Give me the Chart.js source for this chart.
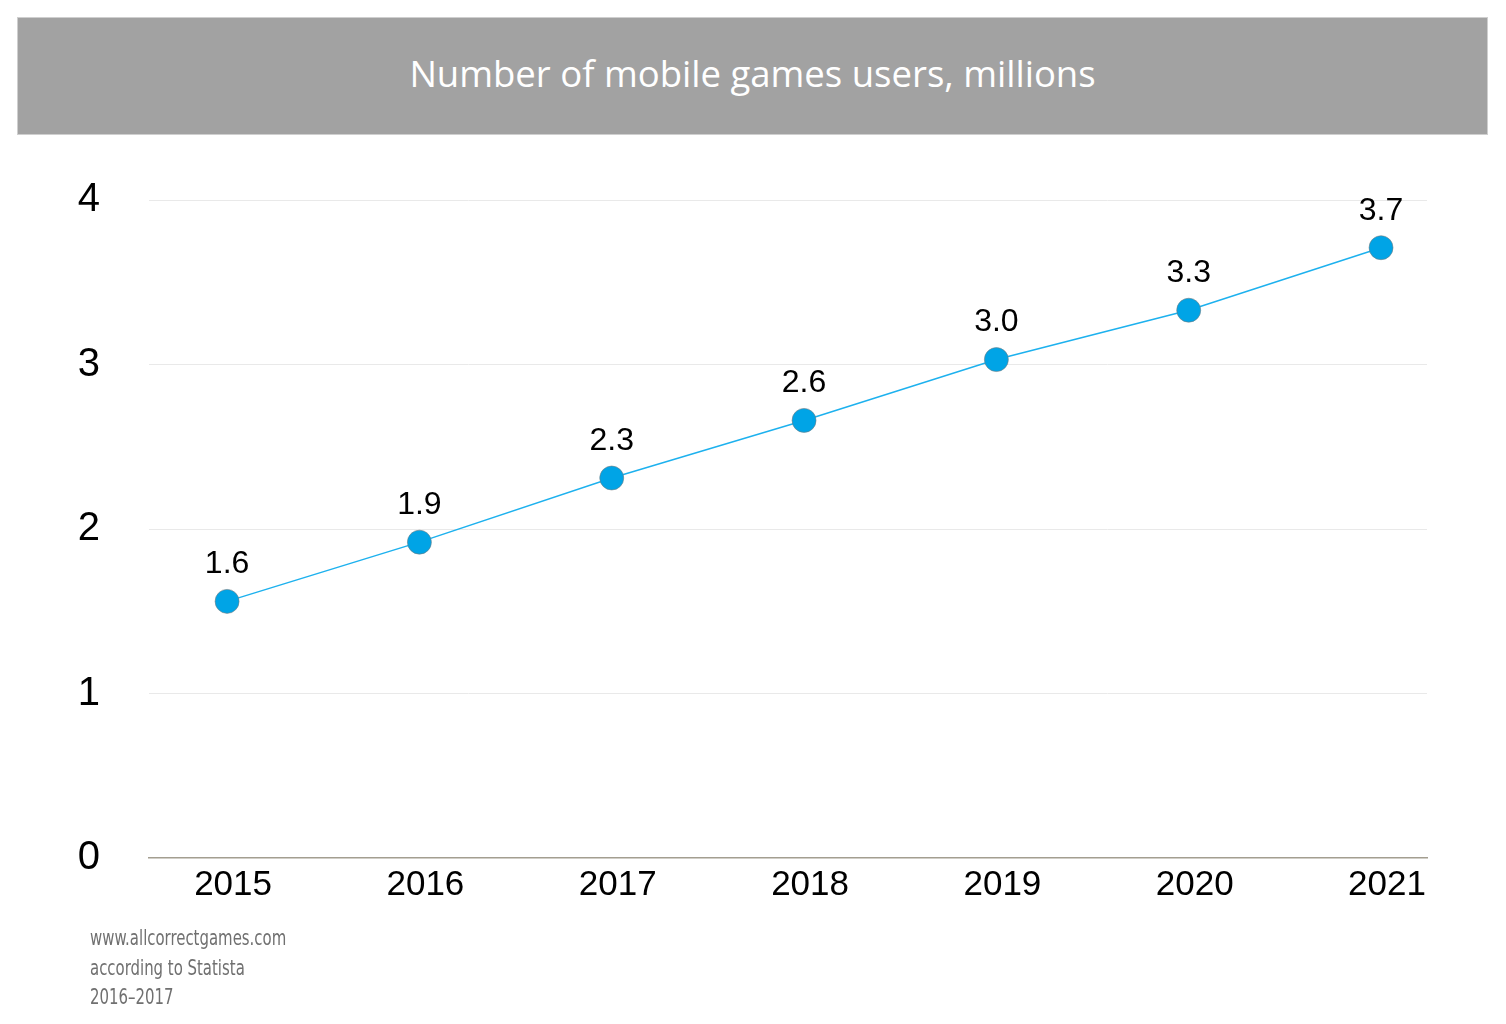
<!DOCTYPE html>
<html>
<head>
<meta charset="utf-8">
<script src="https://cdn.jsdelivr.net/npm/chart.js@4"></script>
<style>
  body { margin: 0; background: #fff; }
  #wrap { position: relative; width: 1506px; height: 1024px; }
  #title {
    position: absolute; left: 17px; top: 17px; width: 1469px; height: 116px;
    background: #a2a2a2; border: 1px solid #cfcfcf;
    color: #fff; font-family: "Open Sans", sans-serif; font-size: 36.5px;
    text-align: center; line-height: 110px;
  }
  canvas { position: absolute; left: 0; top: 0; }
  #source {
    position: absolute; left: 90px; top: 924px;
    font-family: "DejaVu Sans Condensed", "Liberation Sans Narrow", sans-serif;
    font-stretch: condensed; font-size: 21px; line-height: 29.5px; color: #707070;
    transform: scaleX(0.79); transform-origin: left top; white-space: nowrap;
  }
</style>
</head>
<body>
<div id="wrap">
  <canvas id="chart" width="1506" height="1024"></canvas>
  <div id="title">Number of mobile games users, millions</div>
  <div id="source">www.allcorrectgames.com<br>according to Statista<br>2016–2017</div>
</div>
<script>
const years = [2015, 2016, 2017, 2018, 2019, 2020, 2021];
const users = [1.56, 1.92, 2.31, 2.66, 3.03, 3.33, 3.71];
const valueLabels = ['1.6', '1.9', '2.3', '2.6', '3.0', '3.3', '3.7'];
const yTicks = [0, 1, 2, 3, 4];

// value labels above each point
const pointLabels = {
  id: 'pointLabels',
  afterDatasetsDraw(chart) {
    const ctx = chart.ctx;
    const meta = chart.getDatasetMeta(0);
    ctx.save();
    ctx.font = '32px "Liberation Sans", Arial, sans-serif';
    ctx.fillStyle = '#000';
    ctx.textAlign = 'center';
    ctx.textBaseline = 'middle';
    meta.data.forEach((pt, i) => {
      ctx.fillText(valueLabels[i], pt.x, pt.y - 37);
    });
    ctx.restore();
  }
};

new Chart(document.getElementById('chart'), {
  type: 'line',
  data: {
    datasets: [{
      data: years.map((y, i) => ({ x: y, y: users[i] })),
      borderColor: '#1db1ee',
      borderWidth: 1.5,
      backgroundColor: '#00a4e6',
      pointBackgroundColor: '#00a4e6',
      pointBorderColor: 'rgba(120,120,120,0.55)',
      pointBorderWidth: 1,
      pointRadius: 12,
      tension: 0,
      clip: false
    }]
  },
  options: {
    responsive: false,
    animation: false,
    layout: { padding: { left: 0, top: 200, right: 79, bottom: 106 } },
    plugins: { legend: { display: false }, tooltip: { enabled: false } },
    scales: {
      x: {
        type: 'linear',
        min: 2014.594,
        max: 2021.239,
        afterBuildTicks: s => { s.ticks = years.map(v => ({ value: v })); },
        afterFit: s => { s.height = 60; },
        grid: { display: false, drawTicks: false },
        border: { display: true, color: '#a39e90', width: 1.5 },
        ticks: {
          padding: 6,
          labelOffset: 6,
          color: '#000',
          font: { family: '"Liberation Sans", Arial, sans-serif', size: 35 },
          callback: v => String(v)
        }
      },
      y: {
        min: 0,
        max: 4,
        afterBuildTicks: s => { s.ticks = yTicks.map(v => ({ value: v })); },
        afterFit: s => { s.width = 149; },
        grid: {
          drawTicks: false,
          color: ctx => ctx.tick && ctx.tick.value === 0 ? 'rgba(0,0,0,0)' : '#e9e9e9',
          lineWidth: 1
        },
        border: { display: false },
        ticks: {
          padding: 49,
          color: '#000',
          font: { family: '"Liberation Sans", Arial, sans-serif', size: 40 }
        }
      }
    }
  },
  plugins: [pointLabels]
});
</script>
</body>
</html>
